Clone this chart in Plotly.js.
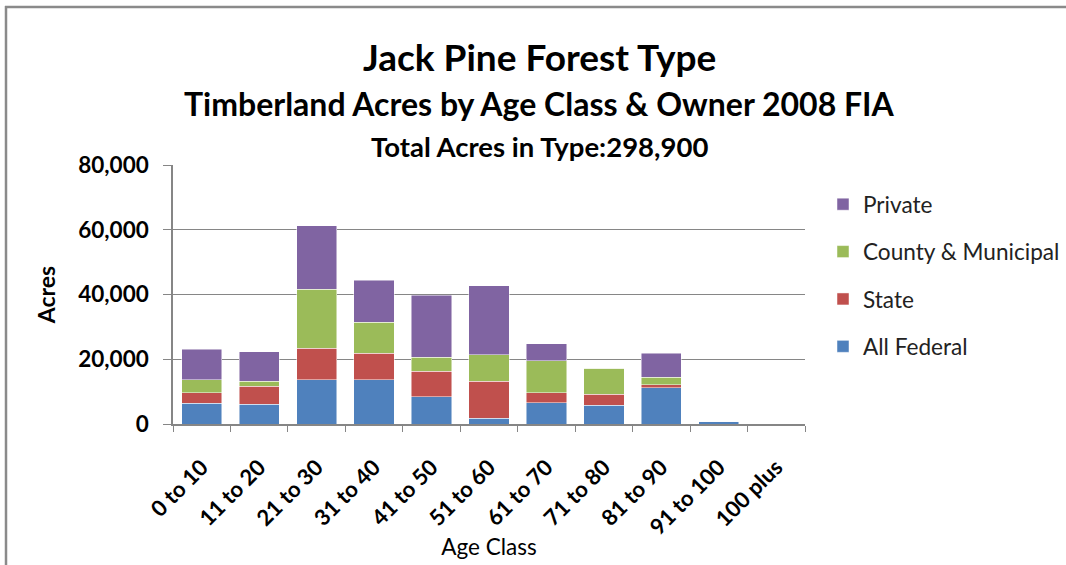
<!DOCTYPE html>
<html><head><meta charset="utf-8">
<script src="https://cdn.plot.ly/plotly-3.0.1.min.js"></script>
<style>html,body{margin:0;padding:0;background:#fff}#chart{width:1066px;height:565px}</style>
</head><body><div id="chart"></div>
<script>
const categories = ["0 to 10","11 to 20","21 to 30","31 to 40","41 to 50","51 to 60","61 to 70","71 to 80","81 to 90","91 to 100","100 plus"];
const allFederal = [6400, 6100, 13600, 13600, 8400, 1750, 6500, 5750, 11200, 900, 0];
const stateAcres = [3300, 5550, 9850, 8300, 7950, 11400, 3200, 3500, 850, 0, 0];
const countyMunicipal = [3900, 1550, 18100, 9500, 4300, 8300, 9900, 7900, 2350, 0, 0];
const privateAcres = [9450, 9150, 19750, 12950, 19050, 21200, 5150, 0, 7500, 0, 0];
const yTicks = [0, 20000, 40000, 60000, 80000];
const yTickLabels = ["0", "20,000", "40,000", "60,000", "80,000"];

const F = "Lato, 'Open Sans', sans-serif";
const mk = (name, y, color, g, rank) => ({
  type: 'bar', name: name, x: categories, y: y, legendgroup: g, legendrank: rank,
  marker: {color: color, line: {color: 'rgba(255,255,255,0.6)', width: 0.8}},
  hoverinfo: 'x+y+name'
});
const data = [
  mk('All Federal', allFederal, '#4F81BD', 'a', 4),
  mk('State', stateAcres, '#C0504D', 'b', 3),
  mk('County & Municipal', countyMunicipal, '#9BBB59', 'c', 2),
  mk('Private', privateAcres, '#8064A2', 'd', 1)
];
const px = v => (v - 173) / 632;
const py = v => (424 - v) / 259;
const layout = {
  width: 1066, height: 565,
  margin: {l: 173, r: 261, t: 165, b: 141, autoexpand: false},
  paper_bgcolor: '#fff', plot_bgcolor: '#fff',
  barmode: 'stack', bargap: 0.3,
  font: {family: F, color: '#000'},
  showlegend: true,
  legend: {xref: 'container', yref: 'container', x: 823/1066, y: 1 - 183/565,
           xanchor: 'left', yanchor: 'top', traceorder: 'grouped',
           tracegroupgap: 15, bgcolor: 'rgba(0,0,0,0)',
           font: {size: 22.6, family: F, color: '#222'}, itemwidth: 30},
  xaxis: {type: 'category', showline: true, linecolor: '#868686', linewidth: 1.5,
          ticks: 'outside', tickson: 'boundaries', ticklen: 6, tickcolor: '#868686',
          ticklabelstandoff: 20,
          tickangle: -45, tickfont: {size: 22, family: F, weight: 'bold'},
          title: {text: 'Age Class', font: {size: 22.5, family: F}, standoff: 0}},
  yaxis: {range: [0, 80000], tickvals: yTicks, ticktext: yTickLabels, showline: true,
          linecolor: '#868686', linewidth: 1.5, ticks: 'outside', ticklen: 8, tickcolor: '#868686',
          ticklabelstandoff: 10,
          gridcolor: '#868686', gridwidth: 1.3, zeroline: false,
          tickfont: {size: 22.5, family: F, weight: 'bold'},
          title: {text: 'Acres', font: {size: 23, family: F, weight: 'bold'}, standoff: 16}},
  annotations: [
    {text: 'Jack Pine Forest Type', xref: 'paper', yref: 'paper', x: 0.58, y: py(57),
     xanchor: 'center', yanchor: 'middle', showarrow: false, font: {size: 37, family: F, weight: 'bold'}},
    {text: 'Timberland Acres by Age Class & Owner 2008 FIA', xref: 'paper', yref: 'paper', x: 0.58, y: py(103),
     xanchor: 'center', yanchor: 'middle', showarrow: false, font: {size: 32, family: F, weight: 'bold'}},
    {text: 'Total Acres in Type:298,900', xref: 'paper', yref: 'paper', x: 0.58, y: py(147),
     xanchor: 'center', yanchor: 'middle', showarrow: false, font: {size: 27.5, family: F, weight: 'bold'}}
  ],
  shapes: [
    {type: 'line', xref: 'paper', yref: 'paper', x0: px(5), x1: px(1070), y0: py(7), y1: py(7),
     line: {color: '#8a8a8a', width: 2.5}, layer: 'below'},
    {type: 'line', xref: 'paper', yref: 'paper', x0: px(6), x1: px(6), y0: py(6), y1: py(570),
     line: {color: '#8a8a8a', width: 2.5}, layer: 'below'}
  ]
};
Plotly.newPlot('chart', data, layout, {displayModeBar: false});
</script></body></html>
